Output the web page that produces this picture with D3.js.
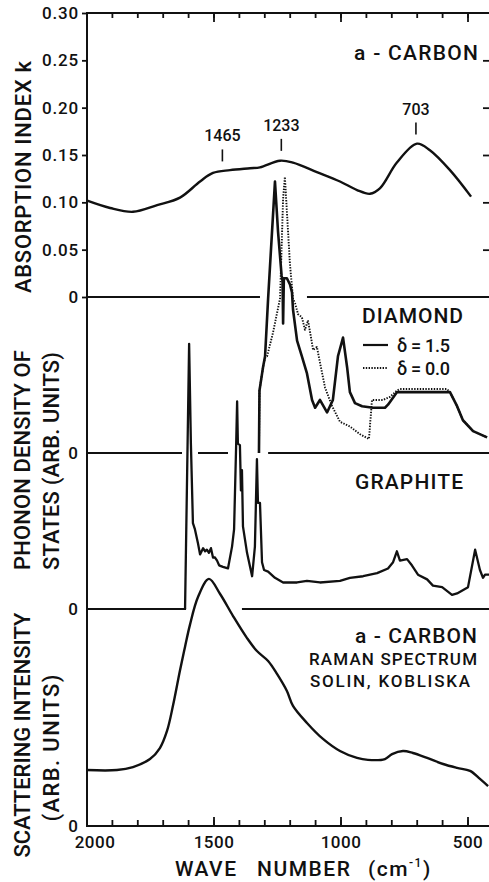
<!DOCTYPE html>
<html>
<head>
<meta charset="utf-8">
<script src="https://cdn.jsdelivr.net/npm/d3@7"></script>
<style>
  body { margin: 0; background: #fff; }
  svg text { font-family: Roboto, "Liberation Sans", sans-serif; font-weight: 500; fill: #111; }
</style>
</head>
<body>
<div id="graph"></div>
<script>
// ---- data (wave number in cm-1) ----
var absWave = [2000, 1907, 1817, 1722, 1632, 1553, 1502, 1435, 1356, 1317, 1238, 1187, 1093, 1002, 935, 884, 844, 778, 699, 648, 569, 486];
var absK    = [0.102, 0.094, 0.090, 0.097, 0.105, 0.122, 0.131, 0.134, 0.136, 0.137, 0.144, 0.142, 0.132, 0.122, 0.113, 0.109, 0.115, 0.142, 0.162, 0.155, 0.134, 0.106];
var absPeaks = [1465, 1233, 703];

// diamond, delta = 1.5 (solid)
var dia15Wave = [1321, 1319, 1305, 1297, 1285, 1258, 1246, 1232, 1228, 1226, 1223, 1211, 1199, 1191, 1187, 1171, 1152, 1132, 1112, 1100, 1081, 1053, 1030, 1010, 990, 974, 963, 943, 915, 872, 825, 813, 778, 758, 569, 541, 518, 478, 423];
var dia15Val  = [0, 0.40, 0.55, 0.62, 0.99, 1.74, 1.42, 1.14, 1.10, 0.83, 1.12, 1.12, 1.08, 1.03, 0.92, 0.72, 0.62, 0.51, 0.34, 0.29, 0.34, 0.26, 0.34, 0.62, 0.74, 0.55, 0.39, 0.32, 0.30, 0.29, 0.29, 0.31, 0.39, 0.39, 0.39, 0.30, 0.21, 0.14, 0.10];
// diamond, delta = 0.0 (dotted)
var dia00Wave = [1321, 1319, 1305, 1297, 1289, 1266, 1238, 1226, 1219, 1199, 1187, 1179, 1167, 1152, 1140, 1128, 1116, 1108, 1093, 1081, 1061, 1033, 1002, 963, 923, 888, 876, 833, 805, 778, 766, 581, 569, 541, 518, 478, 423];
var dia00Val  = [0, 0.40, 0.55, 0.61, 0.62, 0.77, 0.99, 1.63, 1.77, 1.21, 0.99, 0.96, 0.89, 0.87, 0.79, 0.85, 0.74, 0.66, 0.68, 0.58, 0.42, 0.30, 0.20, 0.17, 0.12, 0.09, 0.34, 0.34, 0.36, 0.40, 0.41, 0.41, 0.39, 0.30, 0.21, 0.14, 0.10];

// graphite
var graWave = [1612, 1596, 1589, 1581, 1573, 1561, 1553, 1541, 1533, 1526, 1518, 1510, 1502, 1494, 1486, 1478, 1463, 1443, 1427, 1419, 1411, 1407, 1404, 1396, 1392, 1388, 1384, 1368, 1348, 1337, 1329, 1325, 1317, 1309, 1301, 1285, 1258, 1226, 1171, 1132, 1081, 1002, 963, 911, 856, 813, 793, 778, 766, 738, 719, 695, 659, 636, 600, 561, 541, 498, 470, 451, 439, 431, 415];
var graVal  = [0, 1.70, 1.06, 0.55, 0.51, 0.42, 0.35, 0.39, 0.37, 0.38, 0.36, 0.39, 0.33, 0.33, 0.31, 0.28, 0.27, 0.26, 0.40, 0.51, 1.04, 1.33, 1.06, 1.05, 0.76, 0.89, 0.53, 0.36, 0.21, 0.40, 0.96, 0.68, 0.68, 0.30, 0.25, 0.24, 0.20, 0.17, 0.17, 0.18, 0.17, 0.18, 0.20, 0.21, 0.23, 0.26, 0.30, 0.37, 0.31, 0.32, 0.28, 0.22, 0.19, 0.15, 0.14, 0.09, 0.10, 0.14, 0.38, 0.25, 0.20, 0.22, 0.22];

// a-carbon raman spectrum
var ramWave = [2000, 1880, 1817, 1750, 1711, 1683, 1659, 1632, 1612, 1593, 1561, 1518, 1474, 1423, 1368, 1329, 1285, 1250, 1211, 1187, 1132, 1069, 1002, 935, 892, 825, 797, 754, 715, 659, 596, 541, 490, 451, 419];
var ramVal  = [0.259, 0.259, 0.273, 0.310, 0.361, 0.440, 0.560, 0.720, 0.830, 0.930, 1.060, 1.144, 1.074, 0.972, 0.870, 0.810, 0.764, 0.704, 0.625, 0.556, 0.477, 0.403, 0.347, 0.315, 0.306, 0.310, 0.333, 0.347, 0.338, 0.315, 0.287, 0.269, 0.255, 0.218, 0.185];

// zero lines of the panels, broken where other curves cross them
var absBase = [[2000, 1317], [1132, 413]];
var diaBase = [[2000, 1624], [1561, 1443], [1285, 413]];
var graBase = [[2000, 1608], [1388, 413]];

var kTicks = [0, 0.05, 0.10, 0.15, 0.20, 0.25, 0.30];
var waveLabels = [2000, 1500, 1000, 500];

// ---- layout ----
var width = 489, height = 882;
var plotL = 87, plotR = 489, plotT = 13, plotB = 826;

var x = d3.scaleLinear().domain([2000, 500]).range([86.5, 467.5]);
var yK   = d3.scaleLinear().domain([0, 0.30]).range([297, plotT]);
var yDia = d3.scaleLinear().domain([0, 1]).range([453, 297]);
var yGra = d3.scaleLinear().domain([0, 1]).range([609, 453]);
var yRam = d3.scaleLinear().domain([0, 1]).range([826, 610]);

var svg = d3.select("#graph").append("svg")
  .attr("width", width)
  .attr("height", height);

function zip(a, b) {
  return a.map(function(v, i) { return [v, b[i]]; });
}

function lineFor(yScale, curve) {
  return d3.line()
    .x(function(d) { return x(d[0]); })
    .y(function(d) { return yScale(d[1]); })
    .curve(curve);
}

// zero lines
function baseline(segs, yScale) {
  svg.append("g").selectAll("line").data(segs).enter()
    .append("line")
    .attr("x1", function(d) { return Math.max(plotL, x(d[0])); })
    .attr("x2", function(d) { return Math.min(plotR, x(d[1])); })
    .attr("y1", yScale(0)).attr("y2", yScale(0))
    .attr("stroke", "#111").attr("stroke-width", 2);
}
baseline(absBase, yK);
baseline(diaBase, yDia);
baseline(graBase, yGra);

// curves
function curve(data, yScale, c, sw, dash) {
  svg.append("path")
    .datum(data)
    .attr("d", lineFor(yScale, c))
    .attr("fill", "none")
    .attr("stroke", "#111")
    .attr("stroke-width", sw)
    .attr("stroke-linejoin", "round")
    .attr("stroke-dasharray", dash || null);
}
curve(zip(absWave, absK), yK, d3.curveCatmullRom, 2.4);
curve(zip(dia00Wave, dia00Val), yDia, d3.curveLinear, 1.9, "1.4,1.4");
curve(zip(dia15Wave, dia15Val), yDia, d3.curveLinear, 2.6);
curve(zip(graWave, graVal), yGra, d3.curveLinear, 2.3);
curve(zip(ramWave, ramVal), yRam, d3.curveCatmullRom, 2.4);

// frame lines
svg.append("line").attr("x1", plotL).attr("x2", plotL).attr("y1", plotT - 1).attr("y2", plotB + 1)
  .attr("stroke", "#111").attr("stroke-width", 2);
svg.append("line").attr("x1", plotL).attr("x2", plotR).attr("y1", plotT).attr("y2", plotT)
  .attr("stroke", "#111").attr("stroke-width", 2);
svg.append("line").attr("x1", plotL).attr("x2", plotR).attr("y1", plotB).attr("y2", plotB)
  .attr("stroke", "#111").attr("stroke-width", 2);

var minorWaves = d3.range(1900, 499, -100);

function styleAxis(sel) {
  sel.select(".domain").remove();
  sel.selectAll(".tick line").attr("stroke", "#111").attr("stroke-width", 1.8);
  sel.selectAll("text").attr("font-size", 17).attr("fill", "#111")
    .style("font-family", "Roboto, 'Liberation Sans', sans-serif");
}

// top axis, ticks pointing down
svg.append("g").attr("transform", "translate(0," + plotT + ")")
  .call(d3.axisBottom(x).tickValues(minorWaves).tickSize(5).tickFormat(""))
  .call(styleAxis);
svg.append("g").attr("transform", "translate(0," + plotT + ")")
  .call(d3.axisBottom(x).tickValues([1500, 1000, 500]).tickSize(9).tickFormat(""))
  .call(styleAxis);

// bottom axis, ticks pointing up
svg.append("g").attr("transform", "translate(0," + plotB + ")")
  .call(d3.axisBottom(x).tickValues(minorWaves).tickSizeInner(-6).tickSizeOuter(0).tickFormat(""))
  .call(styleAxis);
var bx = svg.append("g").attr("transform", "translate(0," + plotB + ")")
  .call(d3.axisBottom(x).tickValues(waveLabels).tickSizeInner(-9).tickSizeOuter(0).tickPadding(10).tickFormat(d3.format("d")))
  .call(styleAxis);
bx.selectAll(".tick").filter(function(d) { return d === 2000; }).select("text").attr("dx", 8);
bx.selectAll(".tick").filter(function(d) { return d === 2000; }).select("line").remove();
bx.selectAll(".tick text").attr("letter-spacing", 0.5);

// absorption index axis
var ky = svg.append("g").attr("transform", "translate(" + plotL + ",0)")
  .call(d3.axisLeft(yK).tickValues(kTicks).tickSize(5).tickPadding(3)
    .tickFormat(function(d) { return d === 0 ? "0" : d3.format(".2f")(d); }))
  .call(styleAxis);
ky.selectAll(".tick text").attr("letter-spacing", 0.8);
svg.append("g").attr("transform", "translate(" + plotR + ",0)")
  .call(d3.axisLeft(yK).tickValues(kTicks.slice(1, 6)).tickSize(6).tickFormat(""))
  .call(styleAxis);

// zero labels of the lower panels
[yDia, yGra, yRam].forEach(function(s) {
  svg.append("g").attr("transform", "translate(" + plotL + ",0)")
    .call(d3.axisLeft(s).tickValues([0]).tickSize(0).tickPadding(9).tickFormat(d3.format("d")))
    .call(styleAxis);
});

// peak markers on the absorption curve
function kAt(w) {
  for (var i = 0; i < absWave.length - 1; i++) {
    if (w <= absWave[i] && w >= absWave[i + 1]) {
      var t = (absWave[i] - w) / (absWave[i] - absWave[i + 1]);
      return absK[i] + t * (absK[i + 1] - absK[i]);
    }
  }
  return 0;
}
var marks = svg.append("g").selectAll("g").data(absPeaks).enter().append("g")
  .attr("transform", function(d) { return "translate(" + x(d) + "," + yK(kAt(d)) + ")"; });
marks.append("line").attr("x1", 0).attr("x2", 0).attr("y1", -10).attr("y2", -22)
  .attr("stroke", "#111").attr("stroke-width", 1.6);
marks.append("text").attr("y", -30).attr("text-anchor", "middle").attr("font-size", 16)
  .text(function(d) { return d; });

// axis titles (rotated)
var titles = [
  { t: "ABSORPTION INDEX k", x: 23, y: 177, len: 232 },
  { t: "PHONON DENSITY OF", x: 22, y: 460, len: 220 },
  { t: "STATES (ARB. UNITS)", x: 51, y: 461, len: 218 },
  { t: "SCATTERING INTENSITY", x: 22, y: 735, len: 245 },
  { t: "(ARB. UNITS)", x: 51, y: 748, len: 147 }
];
svg.append("g").selectAll("text").data(titles).enter().append("text")
  .attr("transform", function(d) { return "translate(" + d.x + "," + d.y + ") rotate(-90)"; })
  .attr("text-anchor", "middle")
  .attr("dy", "0.35em")
  .attr("font-size", 22)
  .attr("textLength", function(d) { return d.len; })
  .attr("lengthAdjust", "spacing")
  .text(function(d) { return d.t; });

// panel labels
var notes = [
  { t: "a - CARBON", x: 354, y: 60, fs: 21, len: 124 },
  { t: "DIAMOND", x: 362, y: 323, fs: 21, len: 101 },
  { t: "δ = 1.5", x: 397, y: 352, fs: 18, len: 53 },
  { t: "δ = 0.0", x: 397, y: 375, fs: 18, len: 53 },
  { t: "GRAPHITE", x: 355, y: 489, fs: 21, len: 108 },
  { t: "a - CARBON", x: 355, y: 643, fs: 21, len: 122 },
  { t: "RAMAN SPECTRUM", x: 309, y: 665, fs: 17, len: 168 },
  { t: "SOLIN, KOBLISKA", x: 310, y: 687, fs: 17, len: 160 }
];
svg.append("g").selectAll("text").data(notes).enter().append("text")
  .attr("x", function(d) { return d.x; })
  .attr("y", function(d) { return d.y; })
  .attr("font-size", function(d) { return d.fs; })
  .attr("textLength", function(d) { return d.len; })
  .attr("lengthAdjust", "spacing")
  .text(function(d) { return d.t; });

// legend lines
svg.append("line").attr("x1", 363).attr("x2", 388).attr("y1", 345).attr("y2", 345)
  .attr("stroke", "#111").attr("stroke-width", 2.2);
svg.append("line").attr("x1", 363).attr("x2", 388).attr("y1", 368).attr("y2", 368)
  .attr("stroke", "#111").attr("stroke-width", 1.9).attr("stroke-dasharray", "1.4,1.4");

// x axis title
var xt = svg.append("g").attr("font-size", 21).attr("letter-spacing", 1.5);
xt.append("text").attr("x", 175).attr("y", 876).text("WAVE");
xt.append("text").attr("x", 257).attr("y", 876).text("NUMBER");
var cm = xt.append("text").attr("x", 368).attr("y", 876);
cm.append("tspan").text("(cm");
cm.append("tspan").attr("font-size", 12).attr("dy", -9).text("-1");
cm.append("tspan").attr("dy", 9).text(")");
</script>
</body>
</html>
